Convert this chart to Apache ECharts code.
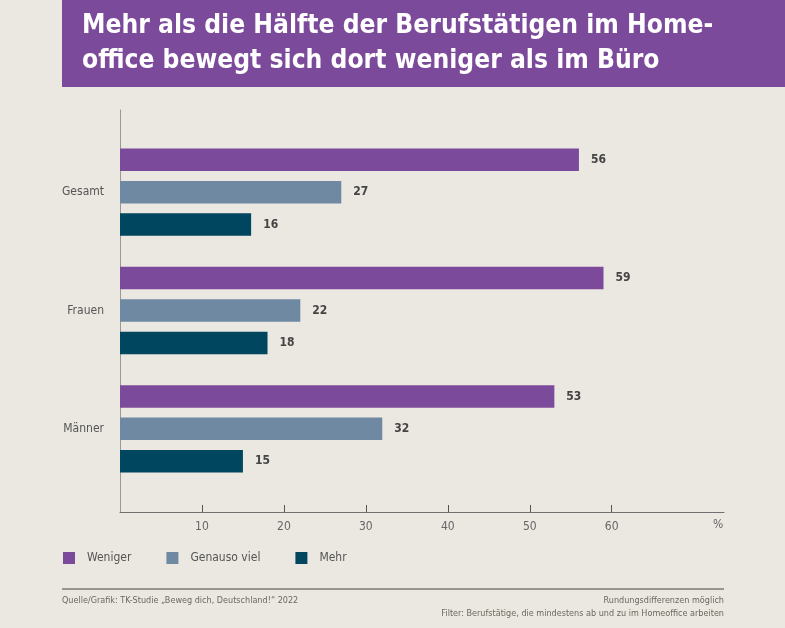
<!DOCTYPE html>
<html><head><meta charset="utf-8">
<script src="https://cdn.jsdelivr.net/npm/echarts@6/dist/echarts.min.js"></script>
<style>html,body{margin:0;padding:0;background:#ebe7e1}#c{width:785px;height:628px}</style>
</head><body><div id="c"></div>
<script>
const categories = ['Gesamt', 'Frauen', 'Männer'];
const weniger = [56, 59, 53];
const genauso = [27, 22, 32];
const mehr = [16, 18, 15];
const tickValues = [10, 20, 30, 40, 50, 60];
const seriesNames = ['Weniger', 'Genauso viel', 'Mehr'];

const FONT = '"Liberation Sans Narrow", "DejaVu Sans Condensed", "Noto Sans", sans-serif';
const colors = ['#7c4a9b', '#7089a3', '#00465f'];
const XMAX = 73.7;

const chart = echarts.init(document.getElementById('c'));
const lbl = {show: true, position: 'right', distance: 12, color: '#444', fontWeight: 'bold', fontSize: 12, fontFamily: FONT};
chart.setOption({
  backgroundColor: '#ebe7e1',
  animation: false,
  textStyle: {fontFamily: FONT},
  title: {
    text: 'Mehr als die Hälfte der Berufstätigen im Home-\noffice bewegt sich dort weniger als im Büro',
    left: 82, top: 4, padding: [5, 5, 5, 0],
    textStyle: {color: '#fff', fontSize: 26.2, fontWeight: 'bold', lineHeight: 35, fontFamily: '"DejaVu Sans Condensed", sans-serif'}
  },
  legend: {
    data: seriesNames, left: 63, top: 552, padding: 0, itemWidth: 12, itemHeight: 12, itemGap: 35,
    icon: 'rect',
    textStyle: {color: '#555', fontSize: 12, fontFamily: FONT, padding: [2, 0, 0, 7]}
  },
  grid: [
    {left: 120, width: 604, top: 133, height: 355},
    {left: 120, width: 604, top: 110, height: 402}
  ],
  xAxis: [
    {gridIndex: 0, type: 'value', min: 0, max: XMAX, show: false},
    {gridIndex: 1, type: 'value', min: 0, max: XMAX,
     axisLine: {show: true, lineStyle: {color: '#6f6f6f', width: 1}},
     axisTick: {show: true, inside: true, length: 7, customValues: tickValues, lineStyle: {color: '#555'}},
     axisLabel: {customValues: tickValues, color: '#666', fontSize: 12, margin: 9, fontFamily: FONT},
     splitLine: {show: false}}
  ],
  yAxis: [
    {gridIndex: 0, type: 'category', data: categories, inverse: true,
     axisLine: {show: false}, axisTick: {show: false},
     axisLabel: {color: '#555', fontSize: 12, margin: 16, fontFamily: FONT}},
    {gridIndex: 1, type: 'value', min: 0, max: 1,
     axisLine: {show: true, lineStyle: {color: '#999', width: 1}},
     axisTick: {show: false}, axisLabel: {show: false}, splitLine: {show: false}}
  ],
  graphic: [
    {type: 'rect', shape: {x: 62, y: 0, width: 723, height: 87}, style: {fill: '#7c4a9b'}, z: -1},
    {type: 'text', left: 713, top: 519, style: {text: '%', fill: '#666', font: '12px ' + FONT}},
    {type: 'line', shape: {x1: 62, y1: 589, x2: 724, y2: 589}, style: {stroke: '#444', lineWidth: 1}},
    {type: 'text', left: 62, top: 596, style: {text: 'Quelle/Grafik: TK-Studie „Beweg dich, Deutschland!“ 2022', fill: '#6b6a5e', font: '9px ' + FONT}},
    {type: 'text', right: 61, top: 596, style: {text: 'Rundungsdifferenzen möglich', fill: '#6b6a5e', font: '9px ' + FONT, align: 'right'}},
    {type: 'text', right: 61, top: 609, style: {text: 'Filter: Berufstätige, die mindestens ab und zu im Homeoffice arbeiten', fill: '#6b6a5e', font: '9px ' + FONT, align: 'right'}}
  ],
  series: [
    {name: seriesNames[0], type: 'bar', data: weniger, barWidth: 22.5, barGap: '44%', itemStyle: {color: colors[0]}, label: lbl},
    {name: seriesNames[1], type: 'bar', data: genauso, barWidth: 22.5, barGap: '44%', itemStyle: {color: colors[1]}, label: lbl},
    {name: seriesNames[2], type: 'bar', data: mehr, barWidth: 22.5, barGap: '44%', itemStyle: {color: colors[2]}, label: lbl}
  ]
});
</script></body></html>
